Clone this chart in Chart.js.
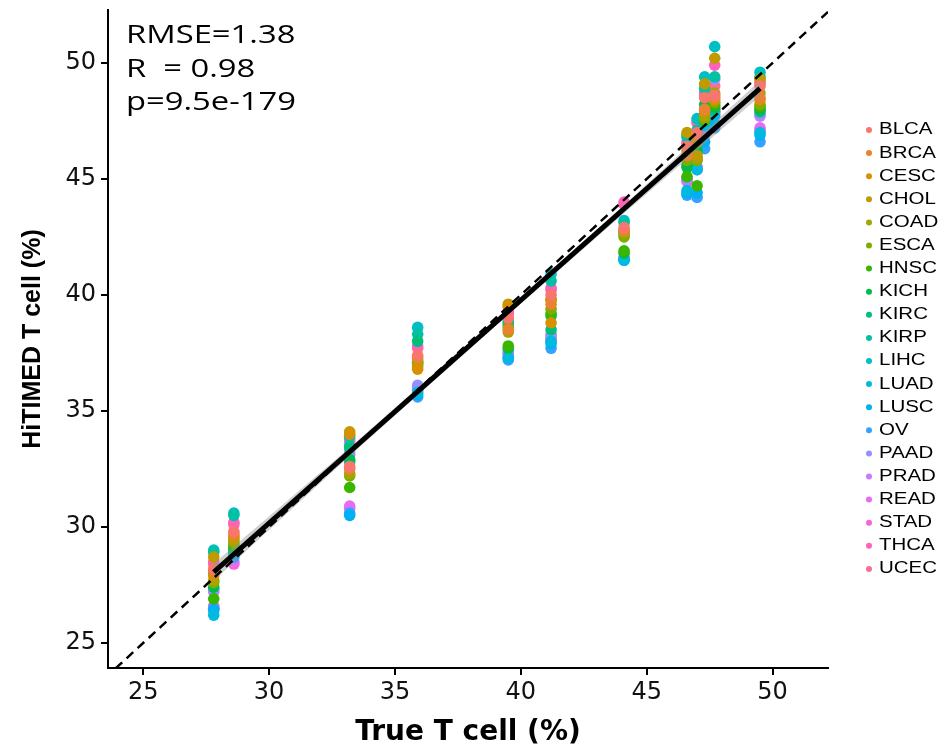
<!DOCTYPE html>
<html>
<head>
<meta charset="utf-8">
<script src="https://cdn.jsdelivr.net/npm/chart.js@4.4.1/dist/chart.umd.min.js"></script>
<style>
  body { margin: 0; background: #fff; }
  canvas { display: block; }
</style>
</head>
<body>
<canvas id="tcellChart" width="943" height="750"></canvas>
<script>
// true T cell fraction of each mixture (x columns)
const trueT = [27.8, 28.6, 33.2, 35.9, 39.5, 41.2, 44.1, 46.6, 47.0, 47.3, 47.7, 49.5];

// HiTIMED estimate per cancer type, one value per column above
const BLCA = [28.2, 29.8, 32.6, 37.4, 39.0, 40.0, 42.9, 46.4, 47.0, 48.5, 48.6, 49.0];
const BRCA = [28.1, 29.7, 32.5, 37.3, 38.5, 39.6, 42.8, 46.0, 46.8, 48.0, 48.5, 48.5];
const CESC = [27.9, 29.6, 34.0, 36.8, 39.5, 38.8, 42.75, 46.2, 46.6, 47.9, 48.4, 48.4];
const CHOL = [28.7, 29.5, 34.1, 36.9, 39.6, 39.8, 42.7, 47.0, 46.0, 49.1, 50.2, 49.3];
const COAD = [27.7, 29.4, 32.3, 37.2, 38.4, 39.8, 42.7, 46.0, 45.9, 47.7, 48.7, 48.7];
const ESCA = [27.6, 29.3, 32.2, 37.1, 38.6, 39.4, 42.5, 45.8, 45.8, 47.6, 48.3, 48.2];
const HNSC = [26.9, 29.2, 31.7, 37.0, 37.8, 39.2, 41.9, 45.1, 44.7, 47.5, 48.2, 48.1];
const KICH = [27.4, 29.1, 32.9, 37.1, 37.7, 39.1, 41.8, 45.5, 46.2, 48.2, 48.1, 48.0];
const KIRC = [28.0, 29.0, 33.4, 38.0, 38.7, 38.5, 42.6, 45.6, 46.3, 47.8, 48.0, 47.9];
const KIRP = [28.9, 30.5, 33.5, 38.3, 38.8, 40.6, 43.1, 46.8, 47.1, 48.9, 49.4, 49.4];
const LIHC = [29.0, 30.6, 33.9, 38.6, 38.9, 40.9, 43.2, 46.9, 47.6, 49.4, 50.7, 49.6];
const LUAD = [26.2, 28.9, 32.8, 35.8, 37.3, 38.0, 41.5, 44.5, 45.4, 47.3, 47.7, 47.0];
const LUSC = [26.4, 28.8, 30.5, 35.7, 37.3, 37.9, 41.5, 44.4, 44.4, 46.6, 47.4, 46.9];
const OV   = [26.5, 28.7, 30.6, 35.6, 37.2, 37.7, 41.5, 44.3, 44.2, 46.3, 47.2, 46.6];
const PAAD = [27.3, 28.9, 33.1, 36.1, 37.6, 38.3, 41.6, 45.0, 45.5, 47.1, 49.3, 47.8];
const PRAD = [27.2, 28.8, 33.2, 36.0, 37.5, 38.2, 41.6, 45.0, 45.5, 47.1, 47.9, 47.7];
const READ = [26.6, 28.5, 30.9, 35.9, 37.5, 38.1, 41.55, 44.9, 45.5, 47.0, 47.9, 47.2];
const STAD = [26.5, 28.4, 30.8, 35.9, 37.45, 38.0, 41.55, 44.9, 45.4, 46.9, 47.8, 47.1];
const THCA = [28.5, 30.2, 33.7, 37.8, 39.3, 40.3, 44.0, 46.6, 47.5, 48.7, 49.9, 49.2];
const UCEC = [28.4, 30.1, 33.8, 37.7, 39.2, 40.2, 43.9, 46.5, 47.4, 48.6, 49.0, 49.1];

const cancerTypes = ['BLCA', 'BRCA', 'CESC', 'CHOL', 'COAD', 'ESCA', 'HNSC', 'KICH', 'KIRC', 'KIRP',
  'LIHC', 'LUAD', 'LUSC', 'OV', 'PAAD', 'PRAD', 'READ', 'STAD', 'THCA', 'UCEC'];
const typeValues = [BLCA, BRCA, CESC, CHOL, COAD, ESCA, HNSC, KICH, KIRC, KIRP,
  LIHC, LUAD, LUSC, OV, PAAD, PRAD, READ, STAD, THCA, UCEC];
const typeColors = ['#F8766D', '#EA8331', '#D89000', '#C09B00', '#A3A500', '#7CAE00', '#39B600', '#00BB4E',
  '#00BF7D', '#00C1A3', '#00BFC4', '#00BAE0', '#00B0F6', '#35A2FF', '#9590FF', '#C77CFF', '#E76BF3',
  '#FA62DB', '#FF62BC', '#FF6C91'];

// fitted line, its confidence band and the identity line
const fitX = [27.8, 49.5];
const fitY = [28.05, 48.9];
const bandX = [27.8, 33.2, 39.5, 44.1, 49.5];
const bandUpper = [28.42, 33.42, 39.42, 43.88, 49.24];
const bandLower = [27.68, 33.06, 39.16, 43.52, 48.56];
const identity = [23.9, 52.2];

const xTicks = [25, 30, 35, 40, 45, 50];
const yTicks = [25, 30, 35, 40, 45, 50];
const statsText = ['RMSE=1.38', 'R  = 0.98', 'p=9.5e-179'];

const pairs = (xs, ys) => xs.map((x, i) => ({ x: x, y: ys[i] }));

const pointSets = cancerTypes.map((name, k) => ({
  label: name,
  data: pairs(trueT, typeValues[k]),
  backgroundColor: typeColors[k],
  borderWidth: 0,
  pointRadius: 5.8,
  order: 1
}));

const lineSets = [
  {
    label: 'identity', type: 'line', data: pairs(identity, identity),
    borderColor: '#000', borderWidth: 2.5, borderDash: [9, 6],
    pointRadius: 0, fill: false, order: 0.1
  },
  {
    label: 'fit', type: 'line', data: pairs(fitX, fitY),
    borderColor: '#000', borderWidth: 5, pointRadius: 0, fill: false, order: 0.2
  },
  {
    label: 'bandUpper', type: 'line', data: pairs(bandX, bandUpper),
    borderWidth: 0, pointRadius: 0, fill: '+1',
    backgroundColor: 'rgba(150,150,150,0.45)', order: 0.6
  },
  {
    label: 'bandLower', type: 'line', data: pairs(bandX, bandLower),
    borderWidth: 0, pointRadius: 0, fill: false, order: 0.6
  }
];

// legend and stats text, drawn with a slight horizontal stretch like the original
const extrasPlugin = {
  id: 'extras',
  afterDraw(chart) {
    const ctx = chart.ctx;
    ctx.save();
    ctx.fillStyle = '#000';
    ctx.textBaseline = 'alphabetic';
    ctx.font = '26px "Open Sans"';
    statsText.forEach((t, i) => {
      ctx.save();
      ctx.translate(126, 43 + i * 33.5);
      ctx.scale(1.26, 1);
      ctx.fillText(t, 0, 0);
      ctx.restore();
    });

    ctx.font = '16px "Liberation Sans"';
    ctx.textBaseline = 'middle';
    cancerTypes.forEach((name, k) => {
      const y = 130 + k * 23.1;
      ctx.fillStyle = typeColors[k];
      ctx.beginPath();
      ctx.arc(869, y, 3, 0, Math.PI * 2);
      ctx.fill();
      ctx.fillStyle = '#000';
      ctx.save();
      ctx.translate(879, y);
      ctx.scale(1.28, 1);
      ctx.fillText(name, 0, 0);
      ctx.restore();
    });
    ctx.restore();
  }
};

const tickFont = { family: 'DejaVu Sans', size: 24 };

new Chart(document.getElementById('tcellChart'), {
  type: 'scatter',
  data: { datasets: lineSets.concat(pointSets) },
  options: {
    responsive: false,
    animation: false,
    layout: { padding: { left: 0, top: 10, right: 115, bottom: 0 } },
    plugins: { legend: { display: false }, tooltip: { enabled: false } },
    scales: {
      x: {
        type: 'linear', min: 23.6, max: 52.2,
        afterFit: s => { s.height = 82; s.paddingLeft = 0; s.paddingRight = 0; },
        afterBuildTicks: s => { s.ticks = xTicks.map(v => ({ value: v })); },
        grid: { drawOnChartArea: false, drawTicks: true, tickLength: 7, color: '#000', lineWidth: 2 },
        border: { color: '#000', width: 2 },
        ticks: { color: '#111', font: tickFont, padding: 3 },
        title: {
          display: true, text: 'True T cell (%)', color: '#000',
          font: { family: 'DejaVu Sans', size: 28, weight: 'bold' }, padding: { top: 0, bottom: 0 }
        }
      },
      y: {
        type: 'linear', min: 23.92, max: 52.28,
        afterFit: s => { s.width = 108; s.paddingTop = 0; s.paddingBottom = 0; },
        afterBuildTicks: s => { s.ticks = yTicks.map(v => ({ value: v })); },
        grid: { drawOnChartArea: false, drawTicks: true, tickLength: 7, color: '#000', lineWidth: 2 },
        border: { color: '#000', width: 2 },
        ticks: { color: '#111', font: tickFont, padding: 5 },
        title: {
          display: true, text: 'HiTIMED T cell (%)', color: '#000',
          font: { family: 'Liberation Sans', size: 25, weight: 'bold' }, padding: { top: 18, bottom: 0 }
        }
      }
    }
  },
  plugins: [extrasPlugin]
});
</script>
</body>
</html>
